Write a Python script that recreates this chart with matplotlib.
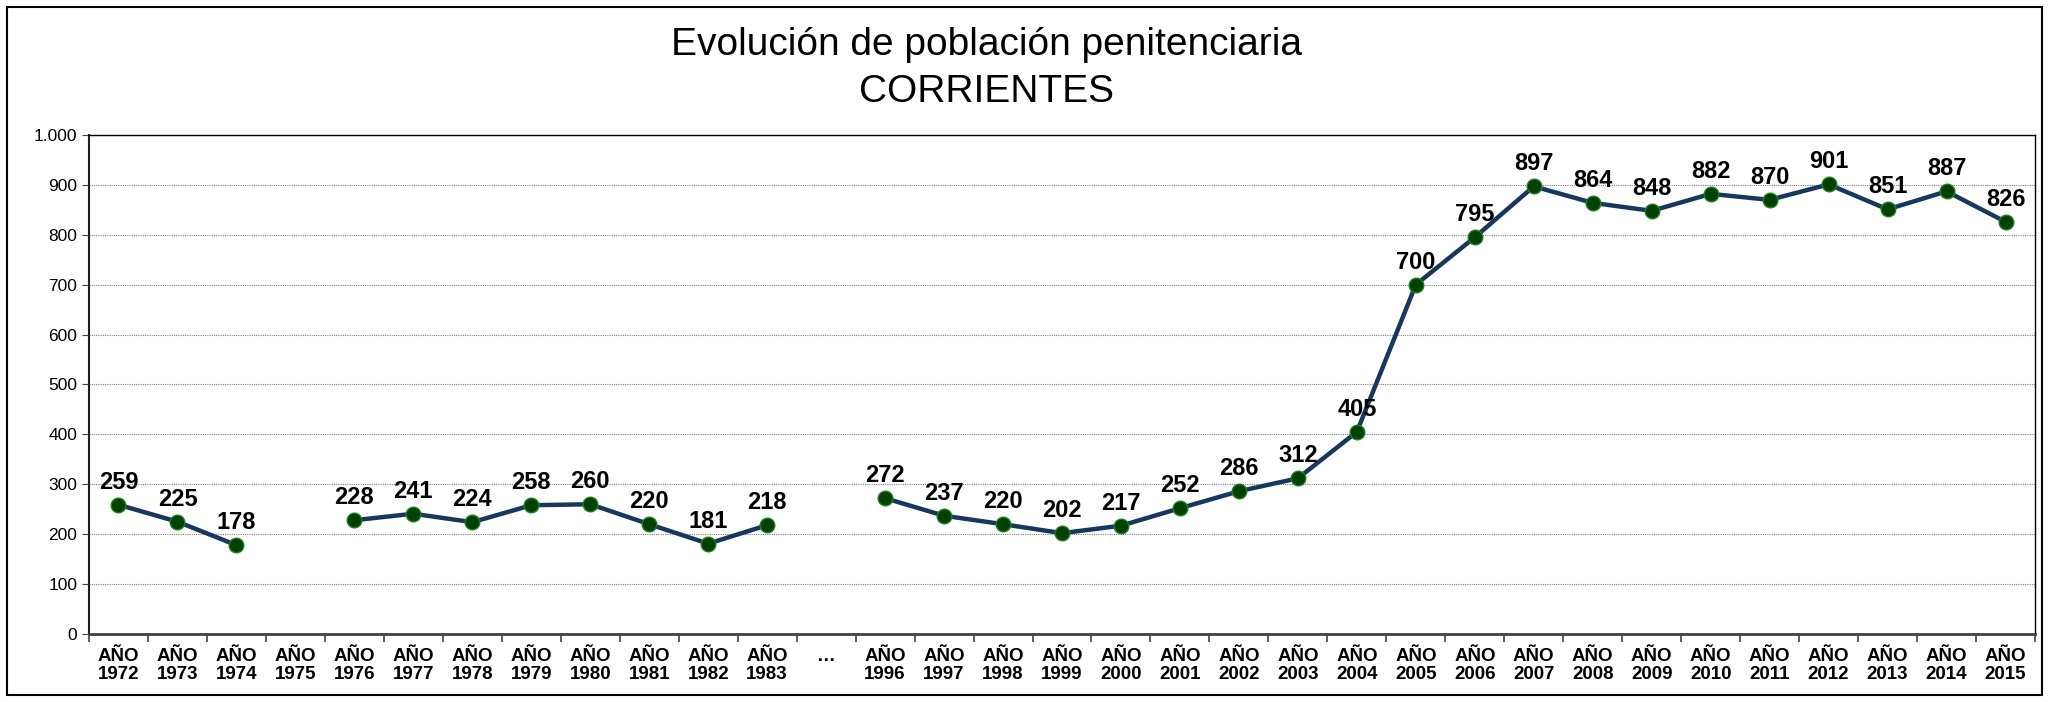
import numpy as np
import matplotlib
matplotlib.use("Agg")
import matplotlib.pyplot as plt
from matplotlib.patches import Rectangle
from matplotlib.ticker import FuncFormatter, MultipleLocator

plt.rcParams['font.family'] = ['Liberation Sans', 'DejaVu Sans']

# años con dato; None = sin dato (la línea se corta)
labels = ["AÑO\n1972", "AÑO\n1973", "AÑO\n1974", "AÑO\n1975", "AÑO\n1976",
          "AÑO\n1977", "AÑO\n1978", "AÑO\n1979", "AÑO\n1980", "AÑO\n1981",
          "AÑO\n1982", "AÑO\n1983", "…",
          "AÑO\n1996", "AÑO\n1997", "AÑO\n1998", "AÑO\n1999", "AÑO\n2000",
          "AÑO\n2001", "AÑO\n2002", "AÑO\n2003", "AÑO\n2004", "AÑO\n2005",
          "AÑO\n2006", "AÑO\n2007", "AÑO\n2008", "AÑO\n2009", "AÑO\n2010",
          "AÑO\n2011", "AÑO\n2012", "AÑO\n2013", "AÑO\n2014", "AÑO\n2015"]
poblacion = [259, 225, 178, None, 228, 241, 224, 258, 260, 220, 181, 218, None,
             272, 237, 220, 202, 217, 252, 286, 312, 405, 700, 795, 897, 864,
             848, 882, 870, 901, 851, 887, 826]

vals = np.array([np.nan if v is None else v for v in poblacion], dtype=float)
x = np.arange(len(labels))

fig = plt.figure(figsize=(20.51, 7.02), dpi=100)
ax = fig.add_axes([0.0434, 0.0969, 0.9488, 0.7108])

ax.plot(x, vals, color='#17375E', lw=3.2, marker='o', ms=10.5,
        mfc='#004000', mec='#1E7F1E', mew=1.0, zorder=3)

for xi, v in zip(x, vals):
    if np.isnan(v):
        continue
    ax.annotate(f"{int(v)}", (xi, v), xytext=(0, 8), textcoords='offset points',
                ha='center', va='bottom', fontsize=17, fontweight='bold')

ax.set_xlim(-0.5, len(labels) - 0.5)
ax.set_ylim(0, 1000)
ax.yaxis.set_major_locator(MultipleLocator(100))
ax.yaxis.set_major_formatter(FuncFormatter(lambda v, p: f"{int(v):,}".replace(",", ".")))
ax.grid(axis='y', color='#808080', lw=0.8, ls=(0, (1, 1)))
ax.set_axisbelow(True)

ax.set_xticks(x)
ax.set_xticklabels(labels, fontsize=13.5, fontweight='bold', va='top',
                   linespacing=1.05)
ax.set_xticks(np.arange(-0.5, len(labels)), minor=True)
ax.tick_params(axis='x', which='major', length=0, pad=10)
ax.tick_params(axis='x', which='minor', length=6, color='#404040', width=1.2)
ax.tick_params(axis='y', labelsize=12.5, length=5, color='#404040')

for s in ax.spines.values():
    s.set_color('#000000')
    s.set_linewidth(1.0)
ax.spines['bottom'].set_color('#404040')
ax.spines['bottom'].set_linewidth(2.0)
ax.spines['left'].set_color('#202020')
ax.spines['left'].set_linewidth(1.5)

fig.text(0.481, 0.902, "Evolución de población penitenciaria\nCORRIENTES",
         ha='center', va='center', fontsize=28, linespacing=1.38)

fig.patches.append(Rectangle((0.0034, 0.01), 0.9922, 0.98, transform=fig.transFigure,
                             fill=False, ec='black', lw=1.5))

fig.savefig('out.png', dpi=100)
